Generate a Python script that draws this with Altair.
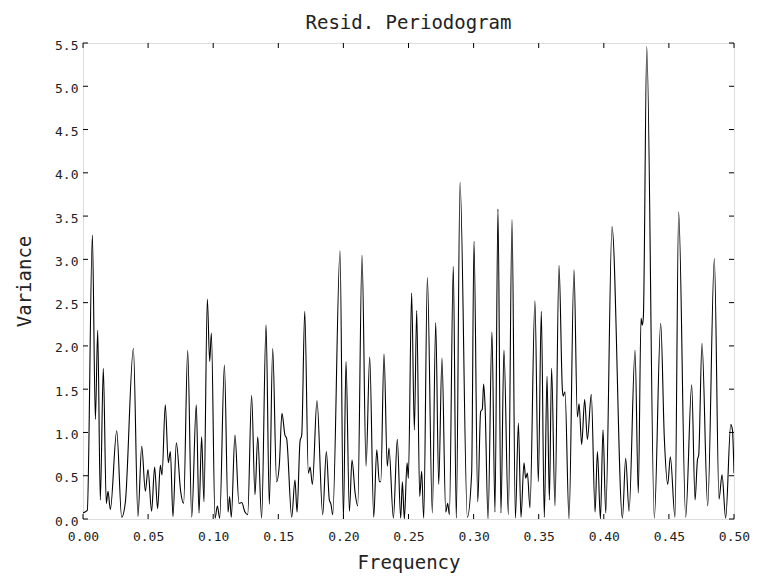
import altair as alt
import pandas as pd

# Periodogram values
freq = [
    0.0000, 0.0033, 0.0072, 0.0095, 0.0113, 0.0133, 0.0156, 0.0179, 0.0192, 0.0210,
    0.0259, 0.0297, 0.0325, 0.0387, 0.0422, 0.0451, 0.0479, 0.0499, 0.0527, 0.0550,
    0.0573, 0.0594, 0.0607, 0.0632, 0.0655, 0.0671, 0.0691, 0.0717, 0.0750, 0.0773,
    0.0804, 0.0835, 0.0870, 0.0891, 0.0911, 0.0929, 0.0955, 0.0973, 0.0986, 0.1014,
    0.1032, 0.1050, 0.1086, 0.1114, 0.1126, 0.1139, 0.1167, 0.1198, 0.1219, 0.1244,
    0.1265, 0.1295, 0.1321, 0.1342, 0.1372, 0.1406, 0.1431, 0.1457, 0.1487, 0.1508,
    0.1528, 0.1551, 0.1564, 0.1603, 0.1628, 0.1644, 0.1667, 0.1680, 0.1703, 0.1731,
    0.1744, 0.1762, 0.1797, 0.1841, 0.1869, 0.1892, 0.1905, 0.1918, 0.1974, 0.2000,
    0.2020, 0.2046, 0.2066, 0.2090, 0.2110, 0.2143, 0.2174, 0.2202, 0.2233, 0.2256,
    0.2276, 0.2287, 0.2312, 0.2337, 0.2350, 0.2384, 0.2414, 0.2440, 0.2453, 0.2468,
    0.2489, 0.2499, 0.2524, 0.2545, 0.2563, 0.2586, 0.2601, 0.2617, 0.2645, 0.2683,
    0.2709, 0.2732, 0.2757, 0.2786, 0.2801, 0.2814, 0.2844, 0.2867, 0.2896, 0.2952,
    0.2985, 0.3003, 0.3032, 0.3054, 0.3067, 0.3077, 0.3088, 0.3111, 0.3141, 0.3164,
    0.3187, 0.3210, 0.3233, 0.3267, 0.3295, 0.3321, 0.3344, 0.3364, 0.3387, 0.3400,
    0.3413, 0.3433, 0.3471, 0.3497, 0.3520, 0.3543, 0.3564, 0.3582, 0.3599, 0.3625,
    0.3656, 0.3682, 0.3689, 0.3702, 0.3733, 0.3771, 0.3797, 0.3810, 0.3830, 0.3853,
    0.3874, 0.3904, 0.3933, 0.3951, 0.3974, 0.3994, 0.4015, 0.4063, 0.4143, 0.4168,
    0.4194, 0.4240, 0.4265, 0.4286, 0.4296, 0.4304, 0.4330, 0.4388, 0.4437, 0.4465,
    0.4491, 0.4511, 0.4547, 0.4575, 0.4629, 0.4675, 0.4701, 0.4719, 0.4729, 0.4754,
    0.4798, 0.4849, 0.4885, 0.4908, 0.4936, 0.4975, 0.4988, 0.5000,
]
variance = [
    0.07, 0.10, 3.28, 1.15, 2.18, 0.22, 1.74, 0.18, 0.32, 0.11,
    1.02, 0.02, 0.19, 1.97, 0.03, 0.84, 0.32, 0.57, 0.09, 0.60,
    0.12, 0.62, 0.51, 1.32, 0.65, 0.78, 0.03, 0.88, 0.32, 0.18,
    1.95, 0.02, 1.32, 0.07, 0.95, 0.20, 2.54, 1.82, 2.15, 0.01,
    0.15, 0.01, 1.78, 0.08, 0.26, 0.02, 0.97, 0.18, 0.19, 0.08,
    0.05, 1.43, 0.28, 0.95, 0.01, 2.24, 0.17, 1.97, 0.43, 0.63,
    1.22, 0.97, 0.93, 0.02, 0.45, 0.08, 0.90, 0.97, 2.40, 0.53,
    0.60, 0.40, 1.37, 0.05, 0.78, 0.22, 0.17, 0.05, 3.10, 0.00,
    1.82, 0.09, 0.68, 0.30, 0.15, 3.05, 0.61, 1.87, 0.02, 0.80,
    0.43, 0.43, 1.91, 0.61, 0.82, 0.01, 0.92, 0.01, 0.43, 0.00,
    0.65, 0.47, 2.61, 1.03, 2.41, 0.26, 0.55, 0.01, 2.79, 0.07,
    2.27, 0.40, 1.86, 0.08, 0.18, 0.05, 2.92, 0.01, 3.89, 0.02,
    0.53, 3.21, 0.20, 1.24, 1.27, 1.56, 1.31, 0.00, 2.16, 0.08,
    3.58, 0.07, 1.95, 0.05, 3.46, 0.01, 1.11, 0.02, 0.65, 0.47,
    0.53, 0.13, 2.52, 0.43, 2.40, 0.02, 1.65, 0.22, 1.74, 0.15,
    2.93, 1.49, 1.42, 1.47, 0.00, 2.88, 1.18, 1.33, 0.86, 1.38,
    0.92, 1.44, 0.08, 0.78, 0.00, 1.03, 0.07, 3.38, 0.01, 0.70,
    0.09, 1.95, 0.30, 2.32, 2.24, 2.34, 5.46, 0.01, 2.26, 0.93,
    0.40, 0.72, 0.02, 3.55, 0.02, 1.55, 0.22, 0.68, 0.74, 2.03,
    0.15, 3.01, 0.23, 0.51, 0.01, 1.09, 1.03, 0.53,
]

x_ticks = [0.00, 0.05, 0.10, 0.15, 0.20, 0.25, 0.30, 0.35, 0.40, 0.45, 0.50]
y_ticks = [0.0, 0.5, 1.0, 1.5, 2.0, 2.5, 3.0, 3.5, 4.0, 4.5, 5.0, 5.5]

W, H = 651, 476
FONT = "DejaVu Sans Mono"
TXT = "#222222"

df = pd.DataFrame({"freq": freq, "variance": variance})
xt_df = pd.DataFrame({"freq": x_ticks})
yt_df = pd.DataFrame({"variance": y_ticks})

xscale = alt.Scale(domain=[0, 0.5], nice=False, zero=False)
yscale = alt.Scale(domain=[0, 5.5], nice=False, zero=False)

xaxis = alt.Axis(
    values=x_ticks, format=".2f", title="Frequency", grid=False, domain=False,
    ticks=False, tickSize=0, labelFlush=False, labelOverlap=False,
    labelFont=FONT, labelFontSize=13, labelColor=TXT, labelBaseline="alphabetic",
    labelPadding=21,
    titleFont=FONT, titleFontSize=19, titleFontWeight="normal", titleColor=TXT,
    titleX=W / 2, titleY=49, titleBaseline="alphabetic", titleAlign="center",
)
yaxis = alt.Axis(
    values=y_ticks, format=".1f", title="Variance", grid=False, domain=False,
    ticks=False, tickSize=0, labelFlush=False, labelOverlap=False,
    labelFont=FONT, labelFontSize=13, labelColor=TXT, labelPadding=5,
    labelOffset=2,
    titleFont=FONT, titleFontSize=19, titleFontWeight="normal", titleColor=TXT,
    titleX=-59, titleY=H / 2, titleBaseline="middle", titleAlign="center",
    titleAngle=270,
)

X = alt.X("freq:Q", scale=xscale, axis=xaxis)
Y = alt.Y("variance:Q", scale=yscale, axis=yaxis)

line = alt.Chart(df).mark_line(
    interpolate="monotone", color="black", strokeWidth=1.1, clip=True
).encode(x=X, y=Y)

tick_len = 5
top_ticks = alt.Chart(xt_df).mark_rule(color="black", strokeWidth=1).encode(
    x=X, y=alt.value(0), y2=alt.value(tick_len))
bot_ticks = alt.Chart(xt_df).mark_rule(color="black", strokeWidth=1).encode(
    x=X, y=alt.value(H - tick_len), y2=alt.value(H))
left_ticks = alt.Chart(yt_df).mark_rule(color="black", strokeWidth=1).encode(
    y=Y, x=alt.value(0), x2=alt.value(tick_len))
right_ticks = alt.Chart(yt_df).mark_rule(color="black", strokeWidth=1).encode(
    y=Y, x=alt.value(W - tick_len), x2=alt.value(W))

chart = alt.layer(line, top_ticks, bot_ticks, left_ticks, right_ticks).properties(
    width=W, height=H,
    autosize=alt.AutoSizeParams(type="none"),
    padding={"left": 83, "top": 43, "right": 29, "bottom": 58},
    title=alt.TitleParams(
        "Resid. Periodogram", font=FONT, fontSize=19, fontWeight="normal",
        color=TXT, anchor="middle", baseline="alphabetic", offset=16, dy=25,
    ),
).configure_view(stroke="black", strokeWidth=1.2).configure(background="white")

chart.save("out.html", embed_options={"renderer": "svg", "actions": False})
